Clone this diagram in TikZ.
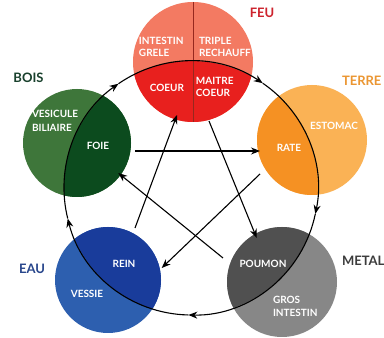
\documentclass[tikz,border=0pt]{standalone}
\usepackage{fontspec}
\setmainfont{Lato}
\usetikzlibrary{arrows.meta}

\begin{document}
\begin{tikzpicture}[x=1pt,y=1pt,
  organ/.style={text=white,anchor=base,inner sep=0pt,outer sep=0pt,font=\bfseries\fontsize{10}{12}\selectfont},
  organleft/.style={organ,anchor=base west},
  element/.style={anchor=base,inner sep=0pt,outer sep=0pt,font=\bfseries\fontsize{13}{15}\selectfont},
  link/.style={draw=black,line width=1.1pt,-{Stealth[length=9pt,width=7pt]}}]
\definecolor{feuLight}{RGB}{243,122,98}
\definecolor{feuDark}{RGB}{232,32,30}
\definecolor{feuLine}{RGB}{150,40,30}
\definecolor{feuText}{RGB}{205,35,45}
\definecolor{boisLight}{RGB}{62,118,58}
\definecolor{boisDark}{RGB}{12,75,30}
\definecolor{boisText}{RGB}{25,65,45}
\definecolor{terreLight}{RGB}{250,178,85}
\definecolor{terreDark}{RGB}{245,145,35}
\definecolor{terreText}{RGB}{235,150,50}
\definecolor{eauLight}{RGB}{45,95,175}
\definecolor{eauDark}{RGB}{25,60,155}
\definecolor{eauText}{RGB}{40,70,140}
\definecolor{metalLight}{RGB}{135,135,135}
\definecolor{metalDark}{RGB}{80,80,80}
\definecolor{metalText}{RGB}{60,60,60}
\path[use as bounding box,fill=white] (0,0) rectangle (384,338);
\begin{scope}
\path[clip] (0,0) rectangle (384,338);

% element discs
\coordinate (wheel) at (191,150);
\coordinate (feu) at (193,276);
\coordinate (bois) at (77,195);
\coordinate (terre) at (312,198);
\coordinate (eau) at (108,58);
\coordinate (metal) at (282,56);

\fill[feuLight] (feu) circle (60);
\fill[boisLight] (bois) circle (54);
\fill[terreLight] (terre) circle (55);
\fill[eauLight] (eau) circle (53);
\fill[metalLight] (metal) circle (55);
\begin{scope}
\clip (wheel) circle (127);
\fill[feuDark] (feu) circle (60);
\fill[boisDark] (bois) circle (54);
\fill[terreDark] (terre) circle (55);
\fill[eauDark] (eau) circle (53);
\fill[metalDark] (metal) circle (55);
\end{scope}
\draw[feuLine,line width=0.6pt] (feu) ++(0,-60) -- ++(0,120);

% generating cycle
\foreach \from/\to in {124.8/55.6, 55.6/-11.8, -11.8/-91.2, -91.2/-166.1, -166.1/-235.2}
  \draw[link] (wheel) ++(\from:127) arc[start angle=\from, end angle=\to, radius=127];

% control star
\coordinate (boisE) at (135,187);
\coordinate (terreW) at (260,187);
\coordinate (feuS) at (209,217);
\coordinate (metalN) at (256.7,100);
\coordinate (eauN) at (135,110);
\coordinate (feuSW) at (177,223);
\coordinate (terreSW) at (260,164);
\coordinate (eauE) at (161.7,70);
\coordinate (metalNW) at (223,80);
\coordinate (boisSE) at (118.3,165);

\draw[link] (boisE) -- (terreW);
\draw[link] (feuS) -- (metalN);
\draw[link] (eauN) -- (feuSW);
\draw[link] (terreSW) -- (eauE);
\draw[link] (metalNW) -- (boisSE);

% labels
\node[element,text=feuText] (feuLabel) at (262,320) {FEU};
\node[element,text=boisText] (boisLabel) at (28.5,255) {BOIS};
\node[element,text=terreText,anchor=base west] (terreLabel) at (342,252) {TERRE};
\node[element,text=eauText] (eauLabel) at (32,64) {EAU};
\node[element,text=metalText,anchor=base west] (metalLabel) at (342,72.5) {METAL};

\node[organleft] (intestinG) at (139,293.5) {INTESTIN};
\node[organleft] (grele) at (139,281) {GRELE};
\node[organleft] (triple) at (199,293.5) {TRIPLE};
\node[organleft] (rechauff) at (199,281) {RECHAUFF};
\node[organ] (coeur) at (167,246.5) {COEUR};
\node[organleft] (maitre) at (196,253.5) {MAITRE};
\node[organleft] (maitreCoeur) at (196,241) {COEUR};

\node[organleft] (vesicule) at (32,220.5) {VESICULE};
\node[organleft] (biliaire) at (32,206.5) {BILIAIRE};
\node[organ] (foie) at (98,188) {FOIE};

\node[organ] (estomac) at (334,208) {ESTOMAC};
\node[organ] (rate) at (289,186.5) {RATE};

\node[organ] (rein) at (124,70.5) {REIN};
\node[organ] (vessie) at (87,40.5) {VESSIE};

\node[organ] (poumon) at (263,70.5) {POUMON};
\node[organleft] (gros) at (273,34.5) {GROS};
\node[organleft] (intestinC) at (273,21.5) {INTESTIN};
\end{scope}
\end{tikzpicture}
\end{document}
